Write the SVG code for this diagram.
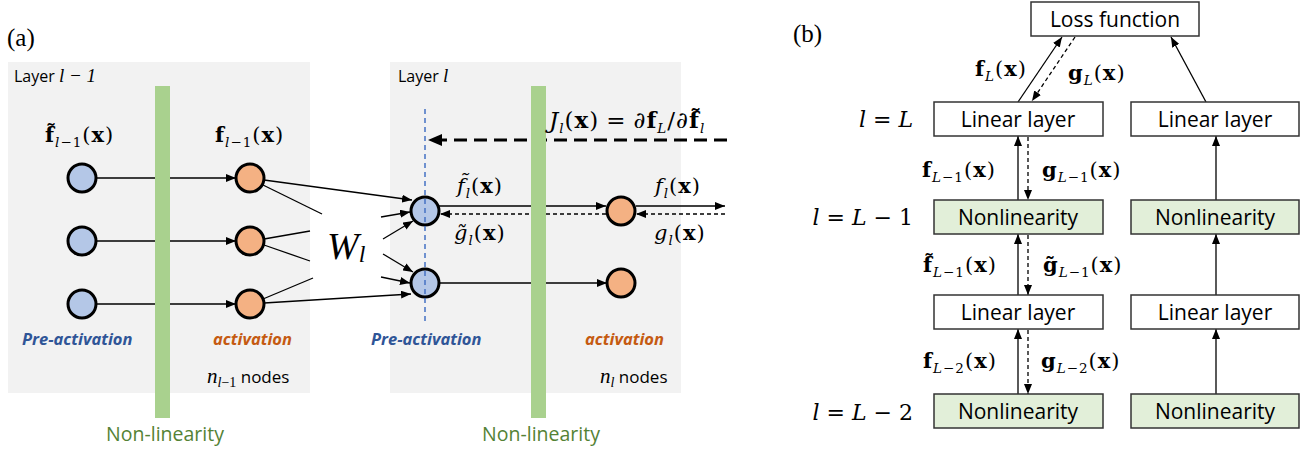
<svg xmlns="http://www.w3.org/2000/svg" width="1309" height="452" viewBox="0 0 1309 452">
<defs>
<style>
.panel{fill:#f2f2f2}
.bar{fill:#a9d18e}
.nb{fill:#b4c7e7;stroke:#000;stroke-width:3}
.no{fill:#f4b183;stroke:#000;stroke-width:3}
.ln{stroke:#000;stroke-width:1.3;fill:none}
.dl{stroke:#000;stroke-width:1.3;fill:none;stroke-dasharray:4 3}
.sans{font-family:"Open Sans","Liberation Sans",sans-serif}
.m{font-family:"DejaVu Serif","Liberation Serif",serif;font-size:21px;letter-spacing:1px}
.s{font-size:13.5px}
.i{font-style:italic}
.b{font-weight:bold}
.box{fill:#fff;stroke:#333;stroke-width:1.5}
.gbox{fill:#e2efd9;stroke:#333;stroke-width:1.5}
.bl{font-size:21px;fill:#000}
.pa{font-size:16.5px;fill:#2f5597}
.ac{font-size:16.5px;fill:#c55a11}
.nlt{font-size:19.5px;fill:#548235}
</style>
<marker id="ah" markerUnits="userSpaceOnUse" markerWidth="10" markerHeight="8" refX="10" refY="4" orient="auto">
<path d="M0,0 L10,4 L0,8 z" fill="#000"/>
</marker>
<marker id="ahb" markerUnits="userSpaceOnUse" markerWidth="14" markerHeight="12" refX="14" refY="6" orient="auto">
<path d="M0,0 L14,6 L0,12 z" fill="#000"/>
</marker>
</defs>
<rect width="1309" height="452" fill="#fff"/>

<!-- panel (a) -->
<text x="7" y="46" style="font-family:'Liberation Serif',serif;font-size:25px">(a)</text>
<g id="layer-lm1">
<rect class="panel" x="8" y="62" width="302" height="331"/>
<text x="14" y="82" class="sans" style="font-size:16px">Layer <tspan style="font-family:'Liberation Serif',serif;font-style:italic;font-size:19px">l − 1</tspan></text>
</g>
<g id="layer-l">
<rect class="panel" x="390" y="62" width="291" height="331"/>
<text x="398" y="82" class="sans" style="font-size:16px">Layer <tspan style="font-family:'Liberation Serif',serif;font-style:italic;font-size:19px">l</tspan></text>
</g>

<g id="connectors">
<!-- left layer -->
<line class="ln" x1="96" y1="178" x2="236" y2="178" marker-end="url(#ah)"/>
<line class="ln" x1="96" y1="241" x2="236" y2="241" marker-end="url(#ah)"/>
<line class="ln" x1="96" y1="304" x2="236" y2="304" marker-end="url(#ah)"/>
<!-- weights -->
<line class="ln" x1="264" y1="180" x2="412" y2="200" marker-end="url(#ah)"/>
<line class="ln" x1="263" y1="185" x2="322" y2="214"/>
<line class="ln" x1="383" y1="254" x2="413" y2="272" marker-end="url(#ah)"/>
<line class="ln" x1="264" y1="239" x2="310" y2="231"/>
<line class="ln" x1="381" y1="217" x2="410" y2="212" marker-end="url(#ah)"/>
<line class="ln" x1="264" y1="245" x2="310" y2="261"/>
<line class="ln" x1="381" y1="277" x2="410" y2="283" marker-end="url(#ah)"/>
<line class="ln" x1="263" y1="299" x2="313" y2="278"/>
<line class="ln" x1="383" y1="239" x2="413" y2="221" marker-end="url(#ah)"/>
<line class="ln" x1="264" y1="303" x2="411" y2="294" marker-end="url(#ah)"/>
<!-- right layer -->
<line class="ln" x1="439" y1="206" x2="606" y2="206" marker-end="url(#ah)"/>
<line class="dl" x1="606" y1="214" x2="440" y2="214" marker-end="url(#ah)"/>
<line class="ln" x1="439" y1="283" x2="607" y2="283" marker-end="url(#ah)"/>
<line class="ln" x1="636" y1="206" x2="725" y2="206" marker-end="url(#ah)"/>
<line class="dl" x1="725" y1="214" x2="636" y2="214" marker-end="url(#ah)"/>
<line x1="727" y1="140" x2="428" y2="140" stroke="#000" stroke-width="3.2" stroke-dasharray="13 7" marker-end="url(#ahb)"/>
<!-- panel b -->
<line class="ln" x1="1018" y1="102" x2="1062" y2="37" marker-end="url(#ah)"/>
<line class="dl" x1="1075" y1="37" x2="1032" y2="101" marker-end="url(#ah)"/>
<line class="ln" x1="1206" y1="102" x2="1171" y2="37" marker-end="url(#ah)"/>
<line class="ln" x1="1018" y1="200" x2="1018" y2="136" marker-end="url(#ah)"/>
<line class="dl" x1="1028" y1="137" x2="1028" y2="200" marker-end="url(#ah)"/>
<line class="ln" x1="1018" y1="295" x2="1018" y2="234" marker-end="url(#ah)"/>
<line class="dl" x1="1028" y1="235" x2="1028" y2="295" marker-end="url(#ah)"/>
<line class="ln" x1="1018" y1="394" x2="1018" y2="329" marker-end="url(#ah)"/>
<line class="dl" x1="1028" y1="330" x2="1028" y2="394" marker-end="url(#ah)"/>
<line class="ln" x1="1216" y1="200" x2="1216" y2="136" marker-end="url(#ah)"/>
<line class="ln" x1="1216" y1="295" x2="1216" y2="234" marker-end="url(#ah)"/>
<line class="ln" x1="1216" y1="394" x2="1216" y2="329" marker-end="url(#ah)"/>
</g>

<!-- nodes (a) -->
<g id="pre-lm1-1"><circle class="nb" cx="82" cy="178" r="14"/></g>
<g id="pre-lm1-2"><circle class="nb" cx="82" cy="241" r="14"/></g>
<g id="pre-lm1-3"><circle class="nb" cx="82" cy="304" r="14"/></g>
<g id="act-lm1-1"><circle class="no" cx="250" cy="178" r="14"/></g>
<g id="act-lm1-2"><circle class="no" cx="250" cy="241" r="14"/></g>
<g id="act-lm1-3"><circle class="no" cx="250" cy="304" r="14"/></g>
<g id="pre-l-1"><circle class="nb" cx="425" cy="211" r="14"/></g>
<g id="pre-l-2"><circle class="nb" cx="425" cy="283" r="14"/></g>
<g id="act-l-1"><circle class="no" cx="621" cy="211" r="14"/></g>
<g id="act-l-2"><circle class="no" cx="621" cy="283" r="14"/></g>
<line x1="425" y1="109" x2="425" y2="325" stroke="#4472c4" stroke-width="1.5" stroke-dasharray="5 4"/>

<g id="nonlin-bar-1">
<rect class="bar" x="155" y="86" width="15" height="332"/>
<text x="165" y="441" text-anchor="middle" class="sans nlt">Non-linearity</text>
</g>
<g id="nonlin-bar-2">
<rect class="bar" x="531" y="86" width="15" height="332"/>
<text x="541" y="441" text-anchor="middle" class="sans nlt">Non-linearity</text>
</g>

<!-- labels (a) -->
<text x="45" y="142" class="m"><tspan class="b">f̃</tspan><tspan class="s i" dy="5">l</tspan><tspan class="s">−1</tspan><tspan dy="-5">(</tspan><tspan class="b">x</tspan>)</text>
<text x="215" y="142" class="m"><tspan class="b">f</tspan><tspan class="s i" dy="5">l</tspan><tspan class="s">−1</tspan><tspan dy="-5">(</tspan><tspan class="b">x</tspan>)</text>
<text x="22" y="345" class="sans b i pa">Pre-activation</text>
<text x="213" y="345" class="sans b i ac">activation</text>
<text x="207" y="383" class="sans" style="font-size:17px"><tspan style="font-family:'Liberation Serif',serif;font-style:italic;font-size:21px">n</tspan><tspan style="font-family:'Liberation Serif',serif;font-style:italic;font-size:14px" dy="4">l</tspan><tspan style="font-family:'Liberation Serif',serif;font-size:14px">−1</tspan><tspan dy="-4"> nodes</tspan></text>
<text x="371" y="345" class="sans b i pa">Pre-activation</text>
<text x="585" y="345" class="sans b i ac">activation</text>
<text x="600" y="383" class="sans" style="font-size:17px"><tspan style="font-family:'Liberation Serif',serif;font-style:italic;font-size:21px">n</tspan><tspan style="font-family:'Liberation Serif',serif;font-style:italic;font-size:14px" dy="4">l</tspan><tspan dy="-4"> nodes</tspan></text>
<text x="327" y="259" style="font-family:'Liberation Serif',serif;font-style:italic;font-size:38px">W<tspan style="font-size:24px" dy="3">l</tspan></text>
<text x="549" y="128" class="m" style="font-size:23px"><tspan class="i">J</tspan><tspan class="s i" dy="5">l</tspan><tspan dy="-5">(</tspan><tspan class="b">x</tspan>)<tspan dx="7">=</tspan><tspan dx="7">∂</tspan><tspan class="b">f</tspan><tspan class="s i" dy="5">L</tspan><tspan dy="-5">/∂</tspan><tspan class="b">f̃</tspan><tspan class="s i" dy="5">l</tspan></text>
<text x="457" y="193" class="m"><tspan class="i">f̃</tspan><tspan class="s i" dy="5">l</tspan><tspan dy="-5">(</tspan><tspan class="b">x</tspan>)</text>
<text x="454" y="240" class="m"><tspan class="i">g̃</tspan><tspan class="s i" dy="5">l</tspan><tspan dy="-5">(</tspan><tspan class="b">x</tspan>)</text>
<text x="655" y="193" class="m"><tspan class="i">f</tspan><tspan class="s i" dy="5">l</tspan><tspan dy="-5">(</tspan><tspan class="b">x</tspan>)</text>
<text x="654" y="240" class="m"><tspan class="i">g</tspan><tspan class="s i" dy="5">l</tspan><tspan dy="-5">(</tspan><tspan class="b">x</tspan>)</text>

<!-- panel (b) -->
<text x="793" y="42" style="font-family:'Liberation Serif',serif;font-size:25px">(b)</text>
<g id="loss"><rect class="box" x="1031" y="2" width="168" height="34"/><text x="1115" y="27" text-anchor="middle" class="sans bl">Loss function</text></g>
<g id="lin-L-a"><rect class="box" x="934" y="102" width="169" height="34"/><text x="1018" y="127" text-anchor="middle" class="sans bl">Linear layer</text></g>
<g id="lin-L-b"><rect class="box" x="1131" y="102" width="168" height="34"/><text x="1215" y="127" text-anchor="middle" class="sans bl">Linear layer</text></g>
<g id="nl-L1-a"><rect class="gbox" x="934" y="200" width="169" height="34"/><text x="1018" y="225" text-anchor="middle" class="sans bl">Nonlinearity</text></g>
<g id="nl-L1-b"><rect class="gbox" x="1131" y="200" width="168" height="34"/><text x="1215" y="225" text-anchor="middle" class="sans bl">Nonlinearity</text></g>
<g id="lin-L1-a"><rect class="box" x="934" y="295" width="169" height="34"/><text x="1018" y="320" text-anchor="middle" class="sans bl">Linear layer</text></g>
<g id="lin-L1-b"><rect class="box" x="1131" y="295" width="168" height="34"/><text x="1215" y="320" text-anchor="middle" class="sans bl">Linear layer</text></g>
<g id="nl-L2-a"><rect class="gbox" x="934" y="394" width="169" height="34"/><text x="1018" y="419" text-anchor="middle" class="sans bl">Nonlinearity</text></g>
<g id="nl-L2-b"><rect class="gbox" x="1131" y="394" width="168" height="34"/><text x="1215" y="419" text-anchor="middle" class="sans bl">Nonlinearity</text></g>

<text x="913" y="127" text-anchor="end" class="m" style="font-size:22px;letter-spacing:0"><tspan class="i">l</tspan> = <tspan class="i">L</tspan></text>
<text x="913" y="225" text-anchor="end" class="m" style="font-size:22px;letter-spacing:0"><tspan class="i">l</tspan> = <tspan class="i">L</tspan> − 1</text>
<text x="913" y="420" text-anchor="end" class="m" style="font-size:22px;letter-spacing:0"><tspan class="i">l</tspan> = <tspan class="i">L</tspan> − 2</text>

<text x="975" y="76" class="m"><tspan class="b">f</tspan><tspan class="s i" dy="5">L</tspan><tspan dy="-5">(</tspan><tspan class="b">x</tspan>)</text>
<text x="1068" y="80" class="m"><tspan class="b">g</tspan><tspan class="s i" dy="5">L</tspan><tspan dy="-5">(</tspan><tspan class="b">x</tspan>)</text>
<text x="922" y="177" class="m"><tspan class="b">f</tspan><tspan class="s i" dy="5">L</tspan><tspan class="s">−1</tspan><tspan dy="-5">(</tspan><tspan class="b">x</tspan>)</text>
<text x="1042" y="177" class="m"><tspan class="b">g</tspan><tspan class="s i" dy="5">L</tspan><tspan class="s">−1</tspan><tspan dy="-5">(</tspan><tspan class="b">x</tspan>)</text>
<text x="923" y="272" class="m"><tspan class="b">f̃</tspan><tspan class="s i" dy="5">L</tspan><tspan class="s">−1</tspan><tspan dy="-5">(</tspan><tspan class="b">x</tspan>)</text>
<text x="1043" y="272" class="m"><tspan class="b">g̃</tspan><tspan class="s i" dy="5">L</tspan><tspan class="s">−1</tspan><tspan dy="-5">(</tspan><tspan class="b">x</tspan>)</text>
<text x="923" y="368" class="m"><tspan class="b">f</tspan><tspan class="s i" dy="5">L</tspan><tspan class="s">−2</tspan><tspan dy="-5">(</tspan><tspan class="b">x</tspan>)</text>
<text x="1041" y="368" class="m"><tspan class="b">g</tspan><tspan class="s i" dy="5">L</tspan><tspan class="s">−2</tspan><tspan dy="-5">(</tspan><tspan class="b">x</tspan>)</text>
</svg>
